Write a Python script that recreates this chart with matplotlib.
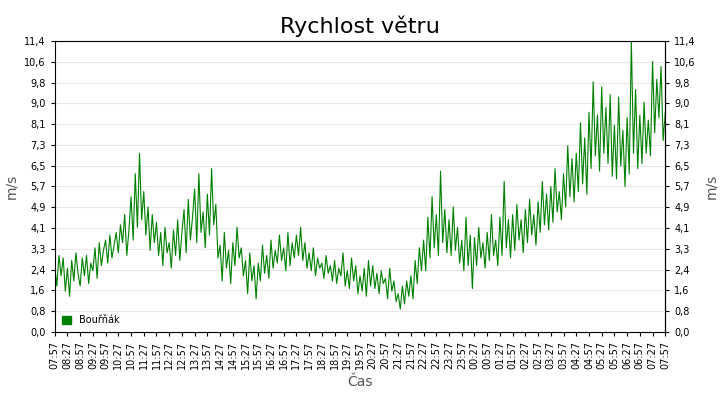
import matplotlib
matplotlib.use("Agg")
import matplotlib.pyplot as plt
import numpy as np

tick_labels = ["07:57","08:27","08:57","09:27","09:57","10:27","10:57","11:27","11:57","12:27","12:57","13:27","13:57","14:27","14:57","15:27","15:57","16:27","16:57","17:27","17:57","18:27","18:57","19:27","19:57","20:27","20:57","21:27","21:57","22:27","22:57","23:27","23:57","00:27","00:57","01:27","01:57","02:27","02:57","03:27","03:57","04:27","04:57","05:27","05:57","06:27","06:57","07:27","07:57"]
speed = [
2.6,1.8,3.0,2.2,2.9,1.6, 2.5,1.4,2.8,2.0,3.1,2.3, 1.8,2.9,2.2,3.0,1.9,2.7,
2.4,3.3,2.1,3.5,2.6,3.2, 3.6,2.7,3.8,2.9,3.4,3.9, 3.1,4.2,3.5,4.6,3.0,4.0,
5.3,3.6,6.2,4.1,7.0,4.4, 5.5,3.8,4.9,3.2,4.6,3.5, 4.3,3.0,3.9,2.6,4.1,3.1,
3.5,2.5,4.0,3.0,4.4,2.8, 3.9,4.8,3.1,5.2,3.6,4.5, 5.6,3.5,6.2,3.9,4.7,3.3,
5.4,3.8,6.4,4.2,5.0,2.9, 3.4,2.0,3.9,2.5,3.2,1.9, 3.5,2.6,4.1,2.9,3.3,2.2,
2.8,1.5,3.1,2.0,2.6,1.3, 2.7,2.0,3.4,2.3,3.0,2.1, 3.6,2.5,3.2,2.7,3.8,2.8,
3.3,2.4,3.9,2.6,3.5,2.9, 3.8,3.0,4.1,2.8,3.5,2.5, 3.1,2.4,3.3,2.2,2.9,2.5,
2.7,2.1,3.0,2.3,2.6,2.0, 2.8,1.9,2.5,2.2,3.1,1.8, 2.4,1.7,2.9,2.0,2.6,1.5,
2.2,1.6,2.5,1.4,2.8,1.8, 2.6,1.7,2.3,1.5,2.4,1.9, 2.1,1.3,2.5,1.6,2.0,1.2,
1.5,0.9,1.8,1.1,2.0,1.4, 2.2,1.3,2.8,1.9,3.3,2.4, 3.6,2.4,4.5,2.9,5.3,3.3,
4.6,3.0,6.3,3.5,4.8,3.1, 4.4,3.0,4.9,3.2,4.1,2.7, 3.6,2.4,4.5,2.6,3.8,1.7,
3.7,2.6,4.1,2.9,3.5,2.5, 3.9,2.8,4.6,3.0,3.6,2.6, 4.5,3.0,5.9,3.3,4.4,2.9,
4.6,3.2,5.0,3.6,4.4,3.1, 4.8,3.5,5.2,3.8,4.6,3.4, 5.1,3.9,5.9,4.2,5.4,4.0,
5.7,4.3,6.4,4.7,5.5,4.4, 6.2,4.9,7.3,5.3,6.8,5.1, 7.0,5.5,8.2,5.8,7.6,5.4,
8.6,6.4,9.8,6.9,8.5,6.3, 9.6,7.0,8.8,6.6,9.3,6.1, 8.1,6.0,9.2,6.5,7.9,5.7,
8.4,6.2,11.4,7.0,9.5,6.4, 8.5,6.6,9.0,7.0,8.3,6.9, 10.6,7.8,9.9,8.4,10.4,7.5,
8.6]
y_ticks = [0,0.8,1.6,2.4,3.3,4.1,4.9,5.7,6.5,7.3,8.1,9.0,9.8,10.6,11.4]

fig = plt.figure(figsize=(7.2,4), dpi=100)
ax = fig.add_axes([0.076,0.17,0.848,0.7275])
x = np.arange(len(speed))*5
ax.plot(x, speed, color="#008000", lw=0.8, label="Bouřňák")
ax.set_xlim(0,1440); ax.set_ylim(0,11.4)
ax.set_xticks(np.arange(len(tick_labels))*30)
ax.set_xticklabels(tick_labels, rotation=90, fontsize=7)
yt = np.linspace(0,11.4,15)
ax.set_yticks(yt)
ax.set_yticklabels([f"{v:.1f}".replace(".",",") for v in y_ticks], fontsize=7)
ax.tick_params(right=True, labelright=True, length=3)
ax.grid(axis="y", color="#e8e8e8", lw=0.8)
ax.set_ylabel("m/s", color="#555555")
ax2 = ax.secondary_yaxis("right"); ax2.set_yticks([]); ax2.set_ylabel("m/s", color="#555555", labelpad=28)
ax.set_xlabel("Čas", color="#555555")
ax.set_title("Rychlost větru", fontsize=16)
ax.legend(loc="lower left", handles=[plt.Rectangle((0,0),1,1,color="#008000")], labels=["Bouřňák"],
          frameon=False, fontsize=7, handlelength=1, handleheight=1, borderaxespad=0.3)
fig.savefig("out.png")
